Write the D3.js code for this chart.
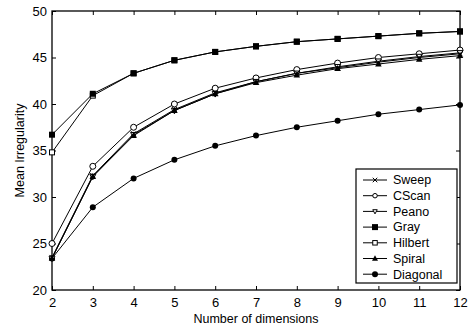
<!DOCTYPE html>
<html>
<head>
<meta charset="utf-8">
<script src="https://cdn.jsdelivr.net/npm/d3@7"></script>
<style>
  body { margin: 0; background: #fff; }
  text { font-family: "Liberation Sans", Arial, sans-serif; fill: #000; }
</style>
</head>
<body>
<svg id="chart"></svg>
<script>
// data
const dims = [2, 3, 4, 5, 6, 7, 8, 9, 10, 11, 12];
const sweep    = [23.5, 32.3, 36.8, 39.4, 41.2, 42.4, 43.3, 43.9, 44.5, 45.0, 45.4];
const cscan    = [25.0, 33.3, 37.5, 40.0, 41.7, 42.8, 43.7, 44.4, 45.0, 45.4, 45.8];
const peano    = [23.4, 32.2, 36.7, 39.3, 41.1, 42.4, 43.3, 44.0, 44.6, 45.1, 45.5];
const gray     = [36.7, 41.1, 43.3, 44.7, 45.6, 46.2, 46.7, 47.0, 47.3, 47.6, 47.8];
const hilbert  = [34.8, 40.9, 43.3, 44.7, 45.6, 46.2, 46.7, 47.0, 47.3, 47.6, 47.8];
const spiral   = [23.4, 32.2, 36.6, 39.3, 41.1, 42.3, 43.1, 43.8, 44.3, 44.8, 45.2];
const diagonal = [23.4, 28.9, 32.0, 34.0, 35.5, 36.6, 37.5, 38.2, 38.9, 39.4, 39.9];

const xTicks = [2, 3, 4, 5, 6, 7, 8, 9, 10, 11, 12];
const yTicks = [20, 25, 30, 35, 40, 45, 50];

const series = [
  { name: "Sweep", values: sweep, marker: "x" },
  { name: "CScan", values: cscan, marker: "circleOpen" },
  { name: "Peano", values: peano, marker: "triDownOpen" },
  { name: "Gray", values: gray, marker: "square" },
  { name: "Hilbert", values: hilbert, marker: "squareOpen" },
  { name: "Spiral", values: spiral, marker: "triUp" },
  { name: "Diagonal", values: diagonal, marker: "circle" }
];

// marker sizes in the plot
const markerSize = { x: 5, circleOpen: 6, triDownOpen: 6, square: 6, squareOpen: 5, triUp: 6.5, circle: 6 };

const width = 468, height = 327;
const margin = { top: 11, right: 8, bottom: 37, left: 52 };

const svg = d3.select("#chart")
  .attr("width", width)
  .attr("height", height);

const x = d3.scaleLinear().domain([2, 12]).range([margin.left, width - margin.right]);
const y = d3.scaleLinear().domain([20, 50]).range([height - margin.bottom, margin.top]);

// tick marks point inward on all four sides
const tickLen = 4;
svg.append("g")
  .attr("transform", `translate(0,${y(20)})`)
  .call(d3.axisBottom(x).tickValues(xTicks).tickSize(-tickLen).tickPadding(8))
  .call(g => g.select(".domain").remove())
  .selectAll("text").attr("font-size", 13);

svg.append("g")
  .attr("transform", `translate(0,${y(50)})`)
  .call(d3.axisTop(x).tickValues(xTicks).tickSize(-tickLen).tickFormat(""))
  .call(g => g.select(".domain").remove());

svg.append("g")
  .attr("transform", `translate(${x(2)},0)`)
  .call(d3.axisLeft(y).tickValues(yTicks).tickSize(-tickLen).tickPadding(5))
  .call(g => g.select(".domain").remove())
  .selectAll("text").attr("font-size", 13);

svg.append("g")
  .attr("transform", `translate(${x(12)},0)`)
  .call(d3.axisRight(y).tickValues(yTicks).tickSize(-tickLen).tickFormat(""))
  .call(g => g.select(".domain").remove());

svg.selectAll(".tick line").attr("stroke", "#000");

// frame
svg.append("rect")
  .attr("x", x(2)).attr("y", y(50))
  .attr("width", x(12) - x(2)).attr("height", y(20) - y(50))
  .attr("fill", "none").attr("stroke", "#000").attr("stroke-width", 1.3);

// axis titles
svg.append("text")
  .attr("x", (x(2) + x(12)) / 2)
  .attr("y", 323)
  .attr("text-anchor", "middle")
  .attr("font-size", 12.5)
  .text("Number of dimensions");

svg.append("text")
  .attr("transform", `translate(24,${(y(20) + y(50)) / 2}) rotate(-90)`)
  .attr("text-anchor", "middle")
  .attr("font-size", 12.5)
  .text("Mean Irregularity");

function drawMarker(g, type, s) {
  const r = s / 2;
  switch (type) {
    case "x":
      g.append("path")
        .attr("d", `M${-r},${-r}L${r},${r}M${-r},${r}L${r},${-r}`)
        .attr("stroke", "#000").attr("stroke-width", 1);
      break;
    case "circleOpen":
      g.append("circle").attr("r", r).attr("fill", "#fff").attr("stroke", "#000");
      break;
    case "circle":
      g.append("circle").attr("r", r).attr("fill", "#000");
      break;
    case "square":
      g.append("rect").attr("x", -r).attr("y", -r).attr("width", s).attr("height", s).attr("fill", "#000");
      break;
    case "squareOpen":
      g.append("rect").attr("x", -r).attr("y", -r).attr("width", s).attr("height", s)
        .attr("fill", "#fff").attr("stroke", "#000");
      break;
    case "triUp":
      g.append("path").attr("d", `M0,${-r * 1.1}L${r},${r * 0.75}L${-r},${r * 0.75}Z`).attr("fill", "#000");
      break;
    case "triDownOpen":
      g.append("path").attr("d", `M0,${r * 1.1}L${r},${-r * 0.75}L${-r},${-r * 0.75}Z`)
        .attr("fill", "#fff").attr("stroke", "#000");
      break;
  }
}

const line = d3.line()
  .x((d, i) => x(dims[i]))
  .y(d => y(d));

// draw bottom layers first so the filled markers sit on top
const drawOrder = ["Diagonal", "CScan", "Hilbert", "Gray", "Peano", "Sweep", "Spiral"];
drawOrder.forEach(name => {
  const s = series.find(d => d.name === name);
  svg.append("path")
    .datum(s.values)
    .attr("d", line)
    .attr("fill", "none")
    .attr("stroke", "#000")
    .attr("stroke-width", 1);
  s.values.forEach((v, i) => {
    const g = svg.append("g").attr("transform", `translate(${x(dims[i])},${y(v)})`);
    drawMarker(g, s.marker, markerSize[s.marker]);
  });
});

// legend
const lg = svg.append("g");
lg.append("rect")
  .attr("x", 356).attr("y", 169)
  .attr("width", 101).attr("height", 114)
  .attr("fill", "#fff").attr("stroke", "#000").attr("stroke-width", 1.2);

series.forEach((s, i) => {
  const yy = 180 + i * 15.7;
  lg.append("line")
    .attr("x1", 363).attr("x2", 387)
    .attr("y1", yy).attr("y2", yy)
    .attr("stroke", "#000");
  const g = lg.append("g").attr("transform", `translate(375,${yy})`);
  drawMarker(g, s.marker, s.marker === "square" || s.marker === "circle" || s.marker === "triUp" ? 6 : 4.5);
  lg.append("text")
    .attr("x", 393).attr("y", yy)
    .attr("dy", "0.35em")
    .attr("font-size", 12.5)
    .text(s.name);
});
</script>
</body>
</html>
